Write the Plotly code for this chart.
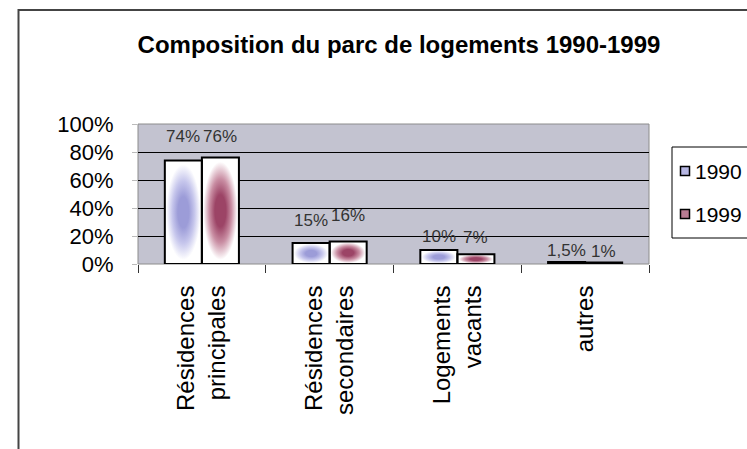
import plotly.graph_objects as go

# ---- data -------------------------------------------------------------
categories = ["Résidences<br>principales", "Résidences<br>secondaires",
              "Logements<br>vacants", "autres"]
years = ["1990", "1999"]
share_1990 = [74, 15, 10, 1.5]
share_1999 = [76, 16, 7, 1]
labels_1990 = ["74%", "15%", "10%", "1,5%"]
labels_1999 = ["76%", "16%", "7%", "1%"]
y_ticks = [0, 20, 40, 60, 80, 100]

# ---- style ------------------------------------------------------------
FONT = "Liberation Sans, Arial, Helvetica, sans-serif"
CORE = {"1990": "#9c9cd8", "1999": "#9c4466"}
SOFT = {"1990": "#c6c6ec", "1999": "#c98ea3"}
SWATCH = {"1990": "#b6b6e2", "1999": "#b87c92"}
PLOT_BG = "#c3c3d0"
BARGAP = 0.42
BAR_W = (1 - BARGAP) / 2
# extra lift (px) of each value label above its bar
LIFT = {"1990": [12, 11, 2, 0], "1999": [10, 15, 5, 0]}

W, H = 747, 449
M = dict(l=138, r=98, t=124, b=185)
PW, PH = W - M["l"] - M["r"], H - M["t"] - M["b"]


def px_x(px):
    """page pixel column -> paper x"""
    return (px - M["l"]) / PW


def px_y(py):
    """page pixel row -> paper y"""
    return (H - M["b"] - py) / PH


fig = go.Figure()
xs = list(range(len(categories)))
series = {"1990": (share_1990, labels_1990), "1999": (share_1999, labels_1999)}

annotations = []
for k, yr in enumerate(years):
    vals, labs = series[yr]
    shift = (k - 0.5) * BAR_W
    # soft centre-out shading inside each bar
    for i, v in zip(xs, vals):
        c = i + shift
        fig.add_trace(go.Scatter(
            x=[c - BAR_W / 2, c + BAR_W / 2, c + BAR_W / 2, c - BAR_W / 2, c - BAR_W / 2],
            y=[0, 0, v, v, 0],
            mode="lines", line=dict(width=0), fill="toself",
            fillgradient=dict(type="radial",
                              colorscale=[[0, CORE[yr]], [0.3, CORE[yr]],
                                          [0.6, SOFT[yr]], [0.92, "#ffffff"],
                                          [1, "#ffffff"]]),
            hoverinfo="skip", showlegend=False, zorder=1,
        ))
    # bar outlines
    fig.add_trace(go.Bar(
        x=xs, y=vals, name=yr, showlegend=False, zorder=2,
        marker=dict(color="rgba(0,0,0,0)", line=dict(color="black", width=2)),
    ))
    for i, v, t, lift in zip(xs, vals, labs, LIFT[yr]):
        annotations.append(dict(
            x=i + shift, y=v, xref="x", yref="y", text=t, showarrow=False,
            yanchor="bottom", yshift=lift,
            font=dict(family=FONT, size=17, color="#333333"),
        ))

shapes = [
    # outer frame of the chart
    dict(type="rect", xref="paper", yref="paper",
         x0=px_x(18.5), x1=2, y0=-3, y1=px_y(10),
         line=dict(color="#444444", width=2), fillcolor="rgba(0,0,0,0)", layer="below"),
    # plot area border
    dict(type="rect", xref="paper", yref="paper", x0=0, x1=1, y0=0, y1=1,
         line=dict(color="#8c8c8c", width=1), fillcolor="rgba(0,0,0,0)", layer="below"),
    # legend box
    dict(type="rect", xref="paper", yref="paper",
         x0=px_x(672), x1=px_x(760), y0=px_y(238), y1=px_y(147),
         line=dict(color="black", width=1), fillcolor="white"),
]

# legend keys
LEGEND_ROWS = {"1990": 171, "1999": 214}
for yr in years:
    row = LEGEND_ROWS[yr]
    shapes.append(dict(type="rect", xref="paper", yref="paper",
                       x0=px_x(680.5), x1=px_x(689.5),
                       y0=px_y(row + 4.5), y1=px_y(row - 4.5),
                       line=dict(color="black", width=1.5), fillcolor=SWATCH[yr]))
    annotations.append(dict(x=px_x(693), y=px_y(row), xref="paper", yref="paper",
                            xanchor="left", yanchor="middle", text=yr,
                            showarrow=False,
                            font=dict(family=FONT, size=21, color="black")))

fig.update_layout(
    width=W, height=H, margin=dict(**M, autoexpand=False),
    paper_bgcolor="white", plot_bgcolor=PLOT_BG,
    barmode="group", bargap=BARGAP, bargroupgap=0, showlegend=False,
    title=dict(text="<b>Composition du parc de logements 1990-1999</b>",
               x=399 / W, xanchor="center", y=1 - 45 / H, yanchor="middle",
               font=dict(family=FONT, size=24, color="black")),
    font=dict(family=FONT, color="black"),
    xaxis=dict(range=[-0.5, len(categories) - 0.5], tickmode="array",
               tickvals=xs, ticktext=categories, tickangle=-90, ticks="",
               ticklabelstandoff=11, tickfont=dict(size=24),
               showgrid=False, zeroline=False,
               showline=True, linecolor="black", linewidth=1,
               minor=dict(tickmode="array",
                          tickvals=[i - 0.5 for i in range(len(categories) + 1)],
                          ticks="outside", ticklen=8, tickcolor="#333333",
                          tickwidth=1, showgrid=False)),
    yaxis=dict(range=[0, 100], tickmode="array", tickvals=y_ticks,
               ticktext=[f"{v}%" for v in y_ticks], tickfont=dict(size=22),
               ticks="outside", ticklen=5, tickcolor="#bbbbbb",
               ticklabelstandoff=14,
               showgrid=True, gridcolor="black", gridwidth=1, zeroline=False,
               showline=True, linecolor="black", linewidth=1),
    shapes=shapes,
    annotations=annotations,
)

fig.write_html("out.html")
